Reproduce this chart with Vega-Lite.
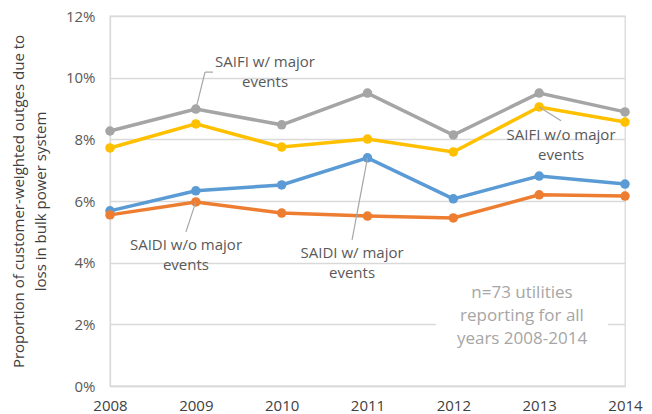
{
  "$schema": "https://vega.github.io/schema/vega-lite/v6.json",
  "autosize": "none",
  "width": 515,
  "height": 370,
  "padding": {"left": 110, "top": 16, "right": 27, "bottom": 28},
  "background": "white",
  "config": {
    "font": "Open Sans",
    "view": {"stroke": "#D9D9D9", "strokeWidth": 1.3},
    "axis": {"labelFont": "Open Sans", "titleFont": "Open Sans"}
  },
  "datasets": {
    "series": [
      {"year": 2008, "s": "SAIFI w/ major", "v": 0.0827},
      {"year": 2009, "s": "SAIFI w/ major", "v": 0.0898},
      {"year": 2010, "s": "SAIFI w/ major", "v": 0.0847},
      {"year": 2011, "s": "SAIFI w/ major", "v": 0.0950},
      {"year": 2012, "s": "SAIFI w/ major", "v": 0.0814},
      {"year": 2013, "s": "SAIFI w/ major", "v": 0.0950},
      {"year": 2014, "s": "SAIFI w/ major", "v": 0.0889},
      {"year": 2008, "s": "SAIFI w/o major", "v": 0.0772},
      {"year": 2009, "s": "SAIFI w/o major", "v": 0.0850},
      {"year": 2010, "s": "SAIFI w/o major", "v": 0.0775},
      {"year": 2011, "s": "SAIFI w/o major", "v": 0.0801},
      {"year": 2012, "s": "SAIFI w/o major", "v": 0.0759},
      {"year": 2013, "s": "SAIFI w/o major", "v": 0.0905},
      {"year": 2014, "s": "SAIFI w/o major", "v": 0.0856},
      {"year": 2008, "s": "SAIDI w/ major", "v": 0.0568},
      {"year": 2009, "s": "SAIDI w/ major", "v": 0.0633},
      {"year": 2010, "s": "SAIDI w/ major", "v": 0.0652},
      {"year": 2011, "s": "SAIDI w/ major", "v": 0.0740},
      {"year": 2012, "s": "SAIDI w/ major", "v": 0.0607},
      {"year": 2013, "s": "SAIDI w/ major", "v": 0.0681},
      {"year": 2014, "s": "SAIDI w/ major", "v": 0.0655},
      {"year": 2008, "s": "SAIDI w/o major", "v": 0.0555},
      {"year": 2009, "s": "SAIDI w/o major", "v": 0.0597},
      {"year": 2010, "s": "SAIDI w/o major", "v": 0.0561},
      {"year": 2011, "s": "SAIDI w/o major", "v": 0.0551},
      {"year": 2012, "s": "SAIDI w/o major", "v": 0.0545},
      {"year": 2013, "s": "SAIDI w/o major", "v": 0.0620},
      {"year": 2014, "s": "SAIDI w/o major", "v": 0.0616}
    ],
    "leaders": [
      {"x": 2009, "y": 0.0898, "x2": 2009.107, "y2": 0.1018},
      {"x": 2009.107, "y": 0.1018, "x2": 2009.2, "y2": 0.1018},
      {"x": 2013, "y": 0.0905, "x2": 2013.255, "y2": 0.0860},
      {"x": 2009, "y": 0.0597, "x2": 2008.885, "y2": 0.0500},
      {"x": 2011, "y": 0.0740, "x2": 2010.82, "y2": 0.0474}
    ],
    "labels": [
      {"x": 2009.806, "y": 0.1051, "t": "SAIFI w/ major"},
      {"x": 2009.806, "y": 0.0986, "t": "events"},
      {"x": 2013.255, "y": 0.0814, "t": "SAIFI w/o major"},
      {"x": 2013.255, "y": 0.0749, "t": "events"},
      {"x": 2008.885, "y": 0.0457, "t": "SAIDI w/o major"},
      {"x": 2008.885, "y": 0.0392, "t": "events"},
      {"x": 2010.82, "y": 0.0431, "t": "SAIDI w/ major"},
      {"x": 2010.82, "y": 0.0367, "t": "events"}
    ],
    "note": [
      {"x": 2012.80, "y": 0.0302, "t": "n=73 utilities"},
      {"x": 2012.80, "y": 0.0227, "t": "reporting for all"},
      {"x": 2012.80, "y": 0.0152, "t": "years 2008-2014"}
    ],
    "box": [
      {"x": 2011.80, "x2": 2013.80, "y": 0.0110, "y2": 0.0344}
    ]
  },
  "layer": [
    {
      "data": {"name": "box"},
      "mark": {"type": "rect", "fill": "white", "stroke": null},
      "encoding": {
        "x": {"field": "x", "type": "quantitative", "scale": {"domain": [2008, 2014], "nice": false, "zero": false},
          "axis": {"values": [2008, 2009, 2010, 2011, 2012, 2013, 2014], "format": "d", "title": null, "grid": false, "ticks": false, "domain": true, "domainColor": "#D9D9D9", "domainWidth": 1.3, "labelFontSize": 15, "labelColor": "#404040", "labelPadding": 12, "labelFlush": false}},
        "x2": {"field": "x2"},
        "y": {"field": "y", "type": "quantitative", "scale": {"domain": [0, 0.12], "nice": false},
          "axis": {"values": [0, 0.02, 0.04, 0.06, 0.08, 0.1, 0.12], "format": ".0%", "title": ["Proportion of customer-weighted outges due to", "loss in bulk power system"], "titleFontSize": 15, "titleFontWeight": "normal", "titleColor": "#404040", "titlePadding": 17, "titleLineHeight": 22, "grid": true, "gridColor": "#D9D9D9", "gridWidth": 1.3, "ticks": false, "domain": true, "domainColor": "#D9D9D9", "domainWidth": 1.3, "labelFontSize": 15, "labelColor": "#595959", "labelPadding": 15}},
        "y2": {"field": "y2"}
      }
    },
    {
      "data": {"name": "series"},
      "mark": {"type": "line", "strokeWidth": 3.5},
      "encoding": {
        "x": {"field": "year", "type": "quantitative"},
        "y": {"field": "v", "type": "quantitative"},
        "color": {"field": "s", "type": "nominal", "legend": null,
          "scale": {"domain": ["SAIFI w/ major", "SAIFI w/o major", "SAIDI w/ major", "SAIDI w/o major"], "range": ["#A5A5A5", "#FFC000", "#5B9BD5", "#ED7D31"]}}
      }
    },
    {
      "data": {"name": "series"},
      "mark": {"type": "point", "filled": true, "opacity": 1, "size": 90},
      "encoding": {
        "x": {"field": "year", "type": "quantitative"},
        "y": {"field": "v", "type": "quantitative"},
        "color": {"field": "s", "type": "nominal", "legend": null}
      }
    },
    {
      "data": {"name": "leaders"},
      "mark": {"type": "rule", "color": "#A6A6A6", "strokeWidth": 1.2},
      "encoding": {
        "x": {"field": "x", "type": "quantitative"},
        "y": {"field": "y", "type": "quantitative"},
        "x2": {"field": "x2"},
        "y2": {"field": "y2"}
      }
    },
    {
      "data": {"name": "labels"},
      "mark": {"type": "text", "fontSize": 15, "color": "#595959", "align": "center", "baseline": "middle"},
      "encoding": {
        "x": {"field": "x", "type": "quantitative"},
        "y": {"field": "y", "type": "quantitative"},
        "text": {"field": "t"}
      }
    },
    {
      "data": {"name": "note"},
      "mark": {"type": "text", "fontSize": 17, "color": "#A6A6A6", "align": "center", "baseline": "middle"},
      "encoding": {
        "x": {"field": "x", "type": "quantitative"},
        "y": {"field": "y", "type": "quantitative"},
        "text": {"field": "t"}
      }
    }
  ]
}
